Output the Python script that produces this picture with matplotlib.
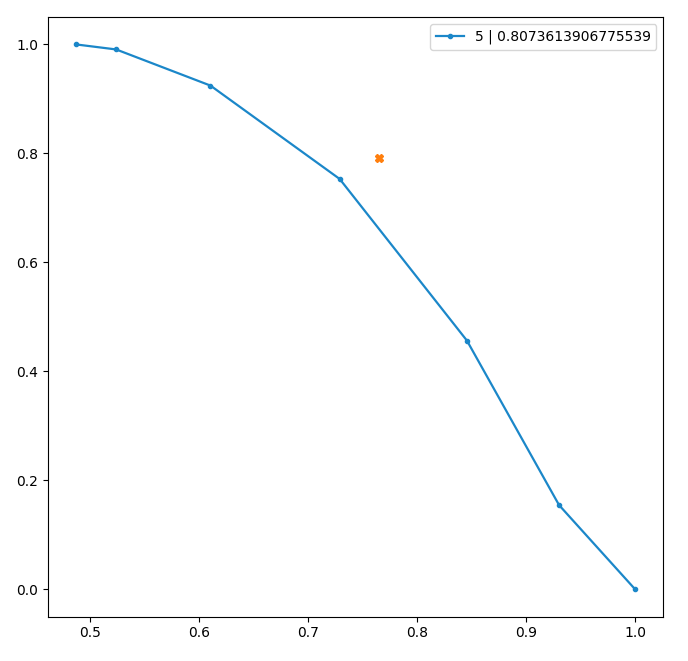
import matplotlib
matplotlib.use("Agg")
import matplotlib.pyplot as plt

x_vals = [0.4876, 0.5243, 0.6107, 0.7291, 0.8457, 0.9302, 1.0]
y_vals = [1.0, 0.9908, 0.9245, 0.7532, 0.4567, 0.1547, 0.0]
label = "5 | 0.8073613906775539"
point_x = [0.7649]
point_y = [0.7919]

fig = plt.figure(figsize=(6.88, 6.61), dpi=100)
ax = fig.add_axes([0.07, 0.067, 0.894, 0.907])
ax.plot(x_vals, y_vals, marker='.', color='#1b87c9', linewidth=1.6, label=label)
ax.plot(point_x, point_y, marker='X', color='#ff7f0e', linestyle='none', markersize=6)
ax.legend(loc='upper right')
ax.set_xticks([0.5, 0.6, 0.7, 0.8, 0.9, 1.0])
ax.set_yticks([0.0, 0.2, 0.4, 0.6, 0.8, 1.0])
fig.savefig("out.png", dpi=100)
